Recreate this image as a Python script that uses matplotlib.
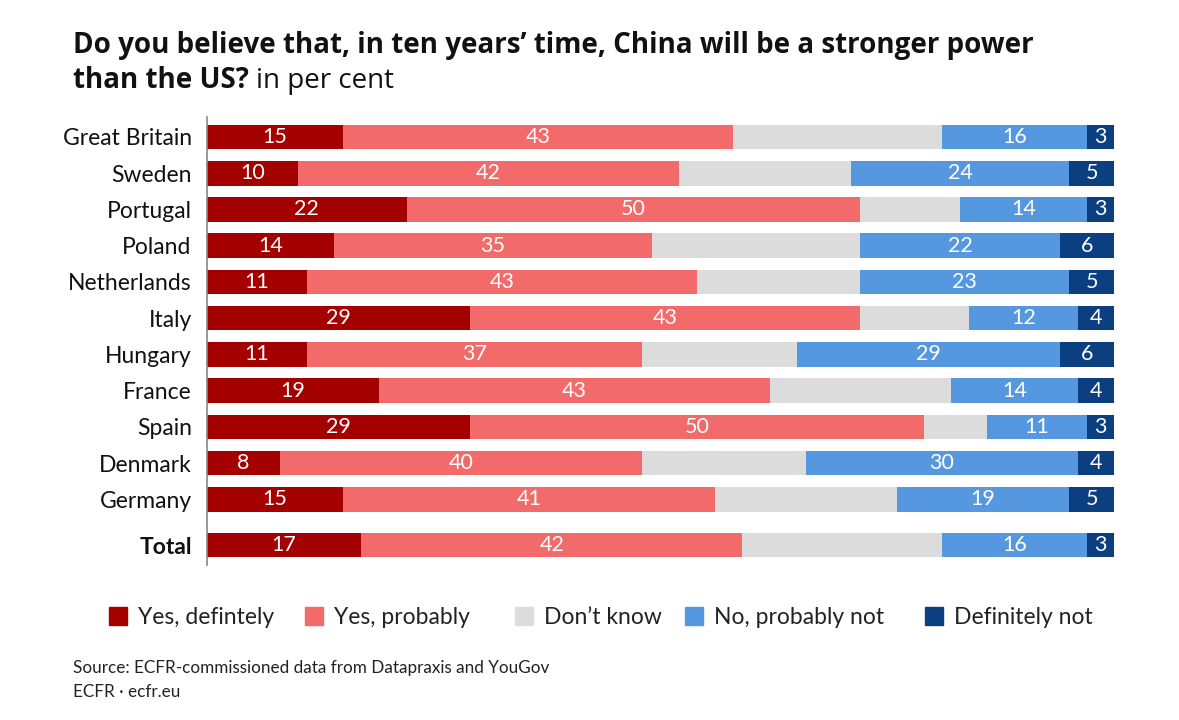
import numpy as np
import matplotlib.pyplot as plt

countries = ["Great Britain", "Sweden", "Portugal", "Poland", "Netherlands", "Italy",
             "Hungary", "France", "Spain", "Denmark", "Germany", "Total"]
yes_def = [15, 10, 22, 14, 11, 29, 11, 19, 29, 8, 15, 17]
yes_prob = [43, 42, 50, 35, 43, 43, 37, 43, 50, 40, 41, 42]
dont_know = [23, 19, 11, 23, 18, 12, 17, 20, 7, 18, 20, 22]
no_prob = [16, 24, 14, 22, 23, 12, 29, 14, 11, 30, 19, 16]
def_not = [3, 5, 3, 6, 5, 4, 6, 4, 3, 4, 5, 3]

series = [yes_def, yes_prob, dont_know, no_prob, def_not]
names = ["Yes, defintely", "Yes, probably", "Don\u2019t know", "No, probably not", "Definitely not"]
colors = ["#a50000", "#f26a6a", "#dcdcdc", "#5598e0", "#0b3f80"]
show_labels = [True, True, False, True, True]

plt.rcParams["font.family"] = ["Lato", "DejaVu Sans"]

W, H = 1179, 720
fig = plt.figure(figsize=(W / 100, H / 100), dpi=100)
ax = fig.add_axes([207 / W, 1 - 565 / H, 910 / W, (565 - 117) / H])

# row positions, Total row set a bit further down
ypos = np.arange(len(countries), dtype=float)
ypos[-1] += 0.26

left = np.zeros(len(countries))
for vals, col, lab in zip(series, colors, show_labels):
    vals = np.array(vals, dtype=float)
    ax.barh(ypos, vals, left=left, height=0.68, color=col, edgecolor="none")
    if lab:
        for y, l, v in zip(ypos, left, vals):
            ax.text(l + v / 2, y, str(int(v)), ha="center", va="center",
                    color="white", fontsize=15.5)
    left += vals

ax.set_xlim(0, 100.3)
ax.set_ylim(ypos[-1] + 0.55, -0.55)
ax.set_yticks(ypos)
ax.set_yticklabels(countries, fontsize=16.5, color="#111111")
ax.get_yticklabels()[-1].set_fontweight("bold")
ax.tick_params(axis="y", length=0, pad=11)
ax.set_xticks([])
for s in ["top", "right", "bottom"]:
    ax.spines[s].set_visible(False)
ax.spines["left"].set_color("#888888")
ax.spines["left"].set_linewidth(1.2)

# title
tfont = ["Open Sans", "DejaVu Sans"]
fig.text(73 / W, 1 - 45 / H, "Do you believe that, in ten years\u2019 time, China will be a stronger power",
         fontsize=20, fontweight="bold", va="center", family=tfont, color="#111111")
t2 = fig.text(73 / W, 1 - 81 / H, "than the US?", fontsize=20, fontweight="bold",
              va="center", family=tfont, color="#111111")
fig.canvas.draw()
bb = t2.get_window_extent()
fig.text((bb.x1 + 7) / W, 1 - 81 / H, "in per cent", fontsize=20, va="center",
         family=tfont, color="#111111")

# legend
leg_x = [109, 305, 515, 685, 925]
for x, n, c in zip(leg_x, names, colors):
    fig.patches.append(plt.Rectangle((x / W, 1 - 625 / H), 18 / W, 18 / H,
                                     transform=fig.transFigure, color=c))
    fig.text((x + 29) / W, 1 - 617 / H, n, fontsize=16.5, va="center", color="#222222")

fig.text(73 / W, 1 - 668 / H, "Source: ECFR-commissioned data from Datapraxis and YouGov",
         fontsize=12.3, va="center", color="#222222")
fig.text(73 / W, 1 - 692 / H, "ECFR \u00b7 ecfr.eu", fontsize=12.3, va="center", color="#222222")

fig.savefig("out.png", dpi=100, facecolor="white")
